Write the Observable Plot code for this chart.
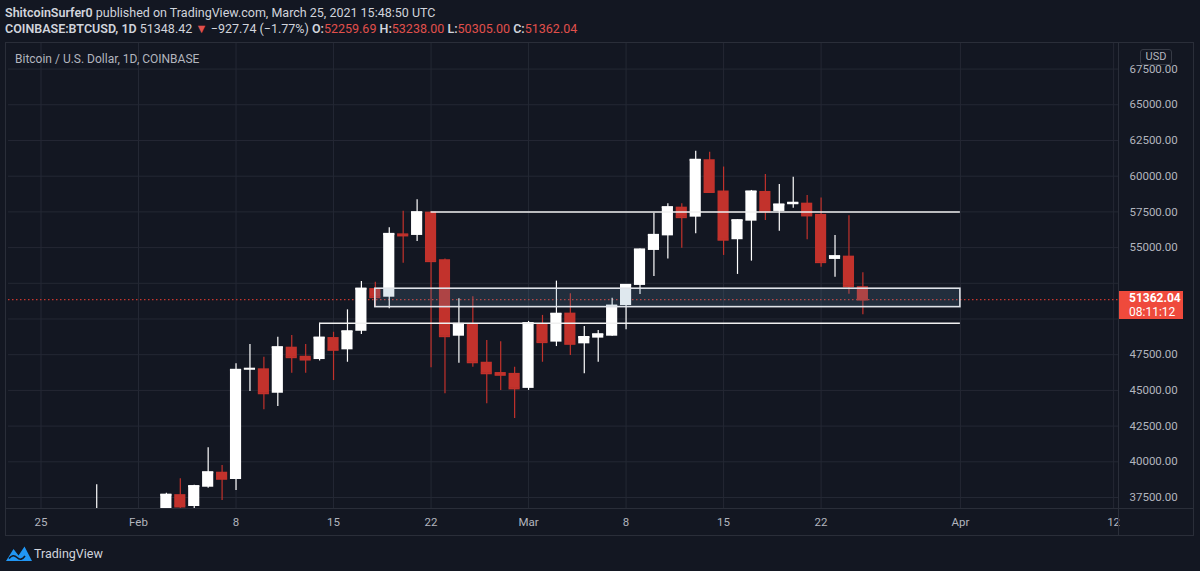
<!DOCTYPE html>
<html>
<head>
<meta charset="utf-8">
<script src="https://cdn.jsdelivr.net/npm/d3@7"></script>
<script src="https://cdn.jsdelivr.net/npm/@observablehq/plot@0.6"></script>
<style>
  html, body { margin: 0; padding: 0; }
  body { width: 1200px; height: 571px; overflow: hidden; position: relative; background: #131722; font-family: Roboto, "Noto Sans", sans-serif; color: #d1d4dc; }
  .abs { position: absolute; }
  #hdr1 { left: 5px; top: 5px; font-size: 12.5px; white-space: nowrap; line-height: 16px; }
  #hdr2 { left: 5px; top: 21px; font-size: 12.5px; white-space: nowrap; line-height: 16px; }
  .b { font-weight: 600; }
  .r { color: #e0504c; }
  #frame { left: 5px; top: 42px; width: 1187px; height: 492px; border: 1px solid #2a2e39; box-sizing: content-box; }
  #title { left: 15px; top: 51px; font-size: 12px; color: #b2b5be; white-space: nowrap; line-height: 16px; }
  #chart { left: 0; top: 42px; }
  #sepH { left: 6px; top: 508px; width: 1187px; height: 1px; background: #2a2e39; }
  #sepV { left: 1118px; top: 43px; width: 1px; height: 492px; background: #2a2e39; }
  #usd { left: 1140px; top: 49px; width: 30px; height: 14px; border: 1px solid #363a45; border-radius: 3px; font-size: 11px; color: #b2b5be; text-align: center; line-height: 14px; background: #131722; }
  #last { left: 1119px; width: 64px; height: 28px; background: #ef4a3c; color: #fff; font-size: 12px; line-height: 13.5px; padding-left: 10px; box-sizing: border-box; padding-top: 1px; }
  #logo { left: 6px; top: 544px; height: 18px; display: flex; align-items: center; font-size: 12.5px; color: #d1d4dc; }
</style>
</head>
<body>
<div id="hdr1" class="abs"><span class="b">ShitcoinSurfer0</span> published on TradingView.com, March 25, 2021 15:48:50 UTC</div>
<div id="hdr2" class="abs"><span class="b">COINBASE:BTCUSD, 1D</span> 51348.42 <span class="r">▼</span> −927.74 (−1.77%) <span class="b">O:</span><span class="r">52259.69</span> <span class="b">H:</span><span class="r">53238.00</span> <span class="b">L:</span><span class="r">50305.00</span> <span class="b">C:</span><span class="r">51362.04</span></div>
<div id="frame" class="abs"></div>
<div id="chart" class="abs"></div>
<div id="sepH" class="abs"></div>
<div id="sepV" class="abs"></div>
<div id="title" class="abs">Bitcoin / U.S. Dollar, 1D, COINBASE</div>
<div id="usd" class="abs">USD</div>
<div id="last" class="abs"></div>
<div id="logo" class="abs">
  <svg width="26" height="18" viewBox="0 0 26 18">
    <path d="M0 17 L7.5 5 L12.5 11.5 L18.5 2.5 L26 17 Z" fill="#2196f3"/>
    <path d="M3 14.5 Q7 9.5 11 13.5 T19 12" stroke="#131722" stroke-width="1.6" fill="none"/>
  </svg>
  <span style="margin-left:2px">TradingView</span>
</div>
<script>
// ---- data ----
const dates = ["2021-01-29","2021-01-30","2021-01-31","2021-02-01","2021-02-02","2021-02-03","2021-02-04","2021-02-05","2021-02-06","2021-02-07","2021-02-08","2021-02-09","2021-02-10","2021-02-11","2021-02-12","2021-02-13","2021-02-14","2021-02-15","2021-02-16","2021-02-17","2021-02-18","2021-02-19","2021-02-20","2021-02-21","2021-02-22","2021-02-23","2021-02-24","2021-02-25","2021-02-26","2021-02-27","2021-02-28","2021-03-01","2021-03-02","2021-03-03","2021-03-04","2021-03-05","2021-03-06","2021-03-07","2021-03-08","2021-03-09","2021-03-10","2021-03-11","2021-03-12","2021-03-13","2021-03-14","2021-03-15","2021-03-16","2021-03-17","2021-03-18","2021-03-19","2021-03-20","2021-03-21","2021-03-22","2021-03-23","2021-03-24","2021-03-25"];
const open  = [34300,34350,34300,33100,33500,35500,37700,36870,38220,39270,38760,46443,46510,44800,48025,47390,47160,48700,47840,49140,52130,51525,55960,55850,57480,54150,48795,49660,46970,46250,46190,45140,49660,48380,50410,48260,48660,48795,50940,52350,54800,55820,57830,57130,61150,58960,55550,56850,58930,57530,58000,58110,57320,54170,54400,52259.69];
const high  = [38400,34900,34350,34700,35900,37800,38810,38350,40980,39740,46860,48210,47320,48725,48845,48210,49700,49070,50640,52620,52580,56380,57550,58350,57500,54200,51410,51560,48490,48410,46620,49830,50250,52650,51760,49470,49200,51450,52400,54900,57410,58070,58070,61750,61680,60640,56950,59000,60120,59420,59930,58650,58480,55850,57230,53238];
const low   = [31900,32900,32300,32300,33450,35400,36200,36700,38150,37290,37990,44920,43640,43870,46200,46200,47050,45690,46970,48910,50830,50720,53910,55430,46580,44760,46900,46620,44060,45000,43030,45000,46970,48070,47440,46160,46970,48795,49240,51710,52980,54200,54960,55960,58820,54450,53120,54050,56900,56150,57760,55550,53630,52930,51740,50305];
const close = [34350,34300,33100,33500,35500,37700,36870,38300,39270,38810,46443,46520,44800,48025,47325,47160,48700,47840,49140,52130,51525,55960,55850,57480,54050,48795,49660,46970,46200,46090,45140,49710,48380,50370,48260,48740,48930,50940,52390,54870,55890,57830,57130,61150,58890,55550,56920,58930,57530,58020,58140,57250,53980,54400,52290,51362.04];

const priceTicks = [37500,40000,42500,45000,47500,50000,52500,55000,57500,60000,62500,65000,67500];
const tickDates  = ["2021-01-25","2021-02-01","2021-02-08","2021-02-15","2021-02-22","2021-03-01","2021-03-08","2021-03-15","2021-03-22","2021-04-01","2021-04-12"];
const tickLabels = ["25","Feb","8","15","22","Mar","8","15","22","Apr","12"];

const viewWindow = ["2021-01-22T16:00:00Z","2021-04-12T08:24:00Z"];
const priceWindow = [36730, 69290];

// drawings on the chart
const levelPrices = [57500, 49700];
const levelStarts = ["2021-02-22","2021-02-14"];
const levelEnds   = ["2021-04-01","2021-04-01"];
const zoneTop = [52120], zoneBottom = [50830], zoneStart = ["2021-02-18"], zoneEnd = ["2021-04-01"];

const lastPrice = 51362.04;
const countdown = "08:11:12";

// ---- build ----
const D = s => new Date(s.length > 10 ? s : s + "T00:00:00Z");
const DAY = 864e5;
const UP = "#ffffff", DOWN = "#c2322c";
const candles = dates.map((d, i) => ({date: D(d), open: open[i], high: high[i], low: low[i], close: close[i]}));
candles.forEach(c => c.color = c.close >= c.open ? UP : DOWN);
const levels = levelPrices.map((p, i) => ({price: p, from: D(levelStarts[i]), to: D(levelEnds[i])}));
const zones = zoneTop.map((t, i) => ({top: t, bottom: zoneBottom[i], from: D(zoneStart[i]), to: D(zoneEnd[i])}));
const tDates = tickDates.map(D);
const labelOf = new Map(tDates.map((d, i) => [+d, tickLabels[i]]));
const axisTicks = priceTicks.filter(t => Math.abs(t - lastPrice) > 1500);

const chart = Plot.plot({
  width: 1200, height: 494,
  marginLeft: 8, marginRight: 82, marginTop: 1, marginBottom: 28,
  style: {background: "transparent", color: "#b2b5be", fontFamily: "Roboto, sans-serif", fontSize: "11.5px"},
  x: {type: "utc", domain: viewWindow.map(D), ticks: tDates, tickFormat: d => labelOf.get(+d), tickSize: 0, tickPadding: 9, label: null},
  y: {domain: priceWindow, axis: "right", ticks: axisTicks, tickFormat: d => d.toFixed(2), tickSize: 0, tickPadding: 11, label: null},
  color: {type: "identity"},
  marks: [
    Plot.ruleX(tDates, {stroke: "#242834", strokeWidth: 1}),
    Plot.ruleY(priceTicks, {stroke: "#242834", strokeWidth: 1}),
    Plot.ruleY([lastPrice], {stroke: "#c8372f", strokeDasharray: "1.5,2.5", strokeWidth: 1.2}),
    Plot.ruleX(candles, {x: "date", y1: "low", y2: "high", stroke: "color", strokeWidth: 1.2, clip: true}),
    Plot.rect(candles, {x1: d => new Date(+d.date - 0.4 * DAY), x2: d => new Date(+d.date + 0.4 * DAY), y1: "open", y2: "close", fill: "color", clip: true}),
    Plot.ruleY(candles, {y: "close", x1: d => new Date(+d.date - 0.4 * DAY), x2: d => new Date(+d.date + 0.4 * DAY), stroke: "color", strokeWidth: 2, clip: true}),
    Plot.rect(zones, {x1: "from", x2: "to", y1: "bottom", y2: "top", fill: "#5d8aa8", fillOpacity: 0.2, stroke: "#dfe2e8", strokeWidth: 1.6}),
    Plot.ruleY(levels, {y: "price", x1: "from", x2: "to", stroke: "#f0f0f0", strokeWidth: 1.5})
  ]
});
document.getElementById("chart").appendChild(chart);

// last price label positioned with the plot's own y scale
const yPix = chart.scale("y").apply(lastPrice) + 42;
const last = document.getElementById("last");
last.style.top = (yPix - 8) + "px";
last.innerHTML = '<div style="font-weight:700">' + lastPrice.toFixed(2) + '</div><div>' + countdown + '</div>';
</script>
</body>
</html>
